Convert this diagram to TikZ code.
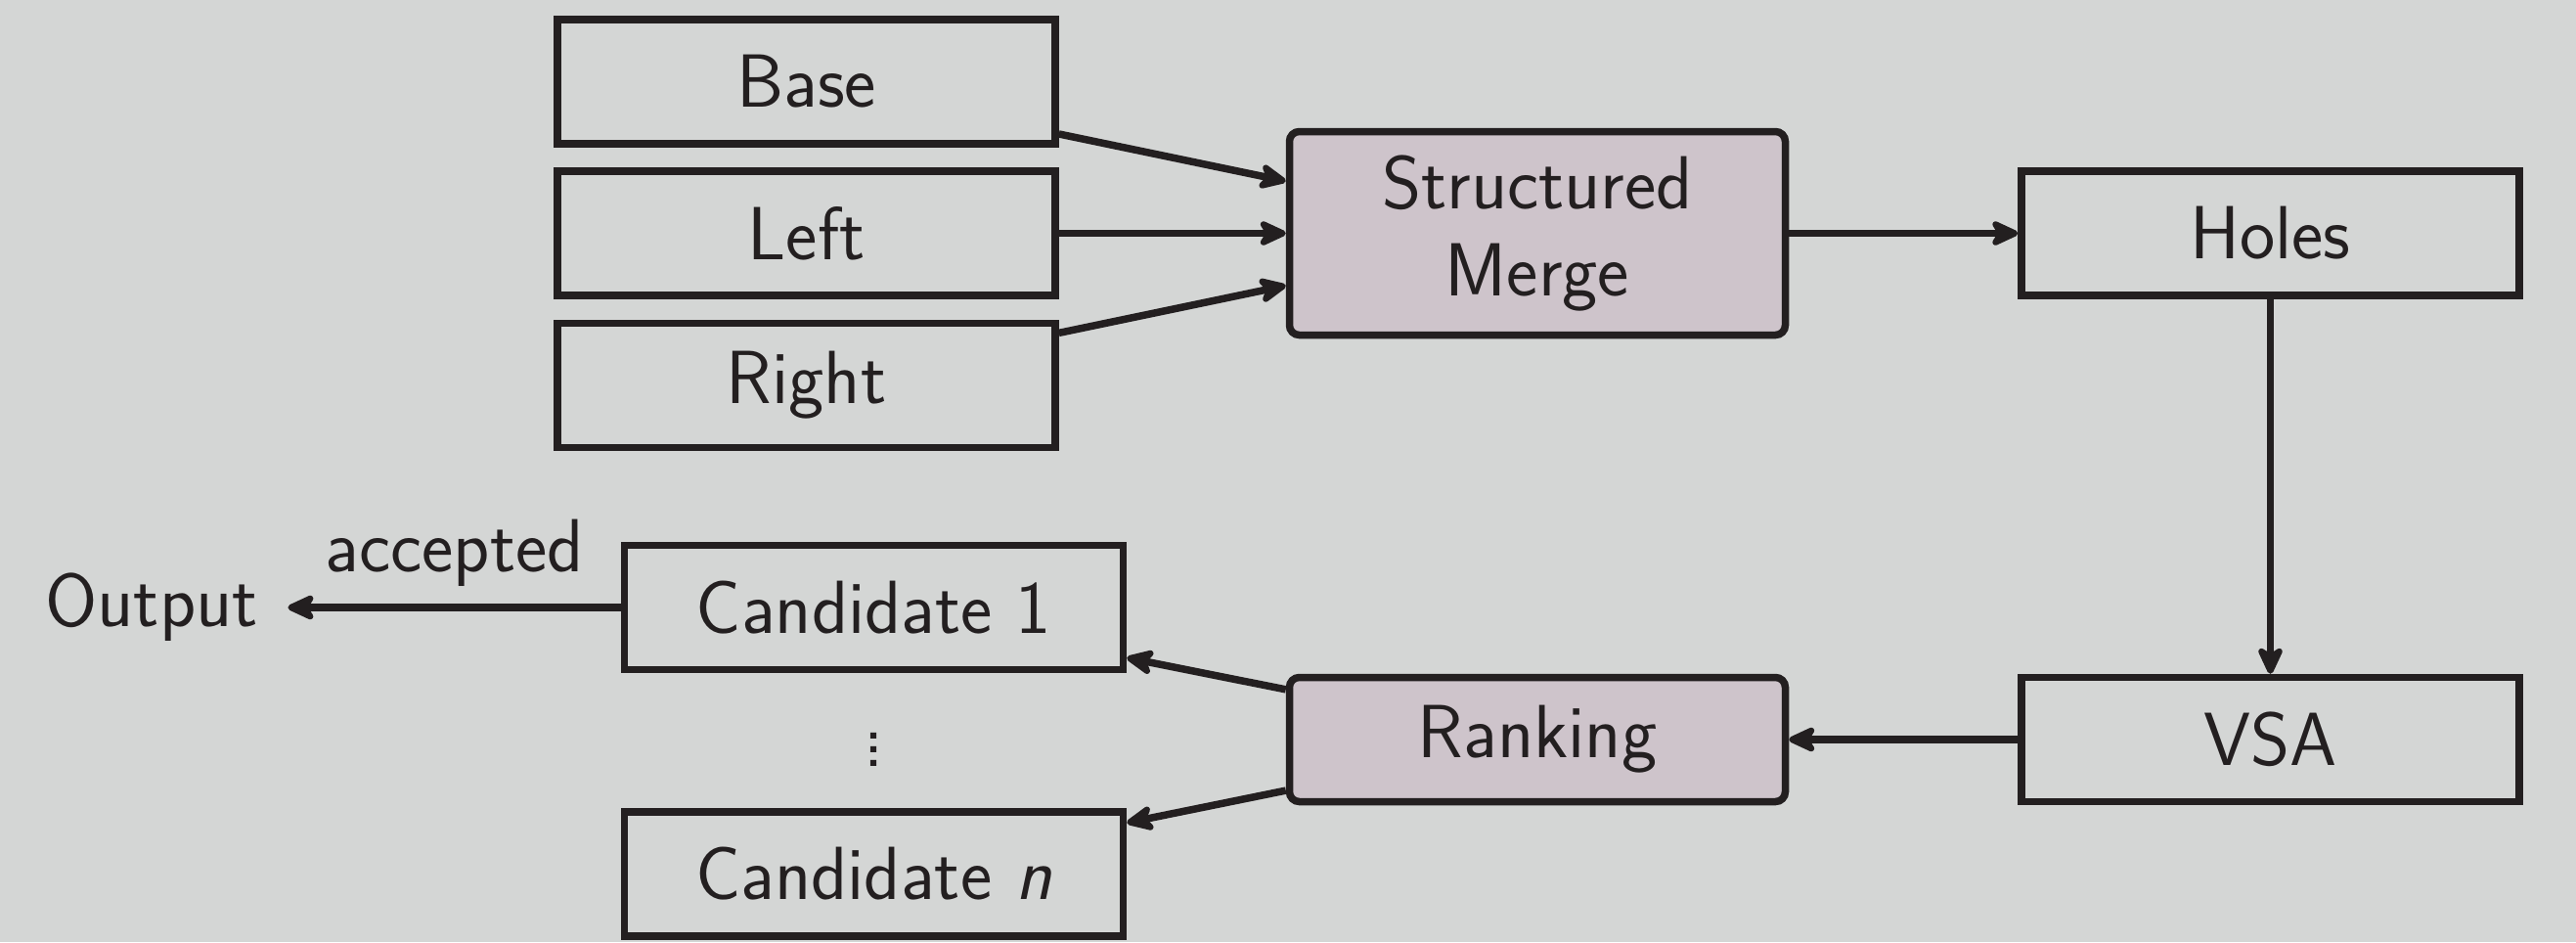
\documentclass[tikz,border=0pt]{standalone}
\usetikzlibrary{arrows.meta}
\definecolor{bgc}{HTML}{D4D6D5}
\definecolor{mfill}{HTML}{CEC4CB}
\definecolor{ink}{HTML}{231F20}
\begin{document}
\begin{tikzpicture}[
  every node/.style={font=\sffamily\fontsize{21.9}{25.3}\selectfont, text=ink},
  box/.style={draw=ink, line width=0.075cm, minimum width=5.09cm, minimum height=1.27cm, align=center, inner sep=0pt},
  procbox/.style={box, rounded corners=0.1cm, fill=mfill, minimum width=5.07cm},
  conn/.style={draw=ink, line width=0.075cm, -{Stealth[length=0.35cm, width=0.32cm, inset=0.1cm, round]}}
]
\fill[bgc] (0,0) rectangle (26.34,-9.63);
\useasboundingbox (0,0) rectangle (26.34,-9.63);

\node[box] (base) at (8.245,-0.835) {Base};
\node[box] (left) at (8.245,-2.385) {Left};
\node[box] (right) at (8.245,-3.94) {Right};
\node[procbox, minimum height=2.08cm] (merge) at (15.72,-2.385) {Structured\\Merge};
\node[box] (holes) at (23.215,-2.385) {Holes};
\node[box] (vsa) at (23.215,-7.56) {VSA};
\node[procbox] (rank) at (15.72,-7.56) {Ranking};
\node[box, minimum width=5.10cm] (c1) at (8.935,-6.21) {Candidate 1};
\node[box, minimum width=5.10cm] (cn) at (8.935,-8.935) {Candidate \textit{n}};
\node (dots) at (8.94,-7.56) {$\vdots$};
\node[inner sep=0.3cm] (out) at (1.55,-6.21) {Output};

\draw[conn] (base) -- (merge);
\draw[conn] (left) -- (merge);
\draw[conn] (right) -- (merge);
\draw[conn] (merge) -- (holes);
\draw[conn] (holes) -- (vsa);
\draw[conn] (vsa) -- (rank);
\draw[conn] (rank) -- (c1);
\draw[conn] (rank) -- (cn);
\draw[conn] (c1) -- node[midway, above, yshift=0.06cm] (acc) {accepted} (out);
\end{tikzpicture}
\end{document}
